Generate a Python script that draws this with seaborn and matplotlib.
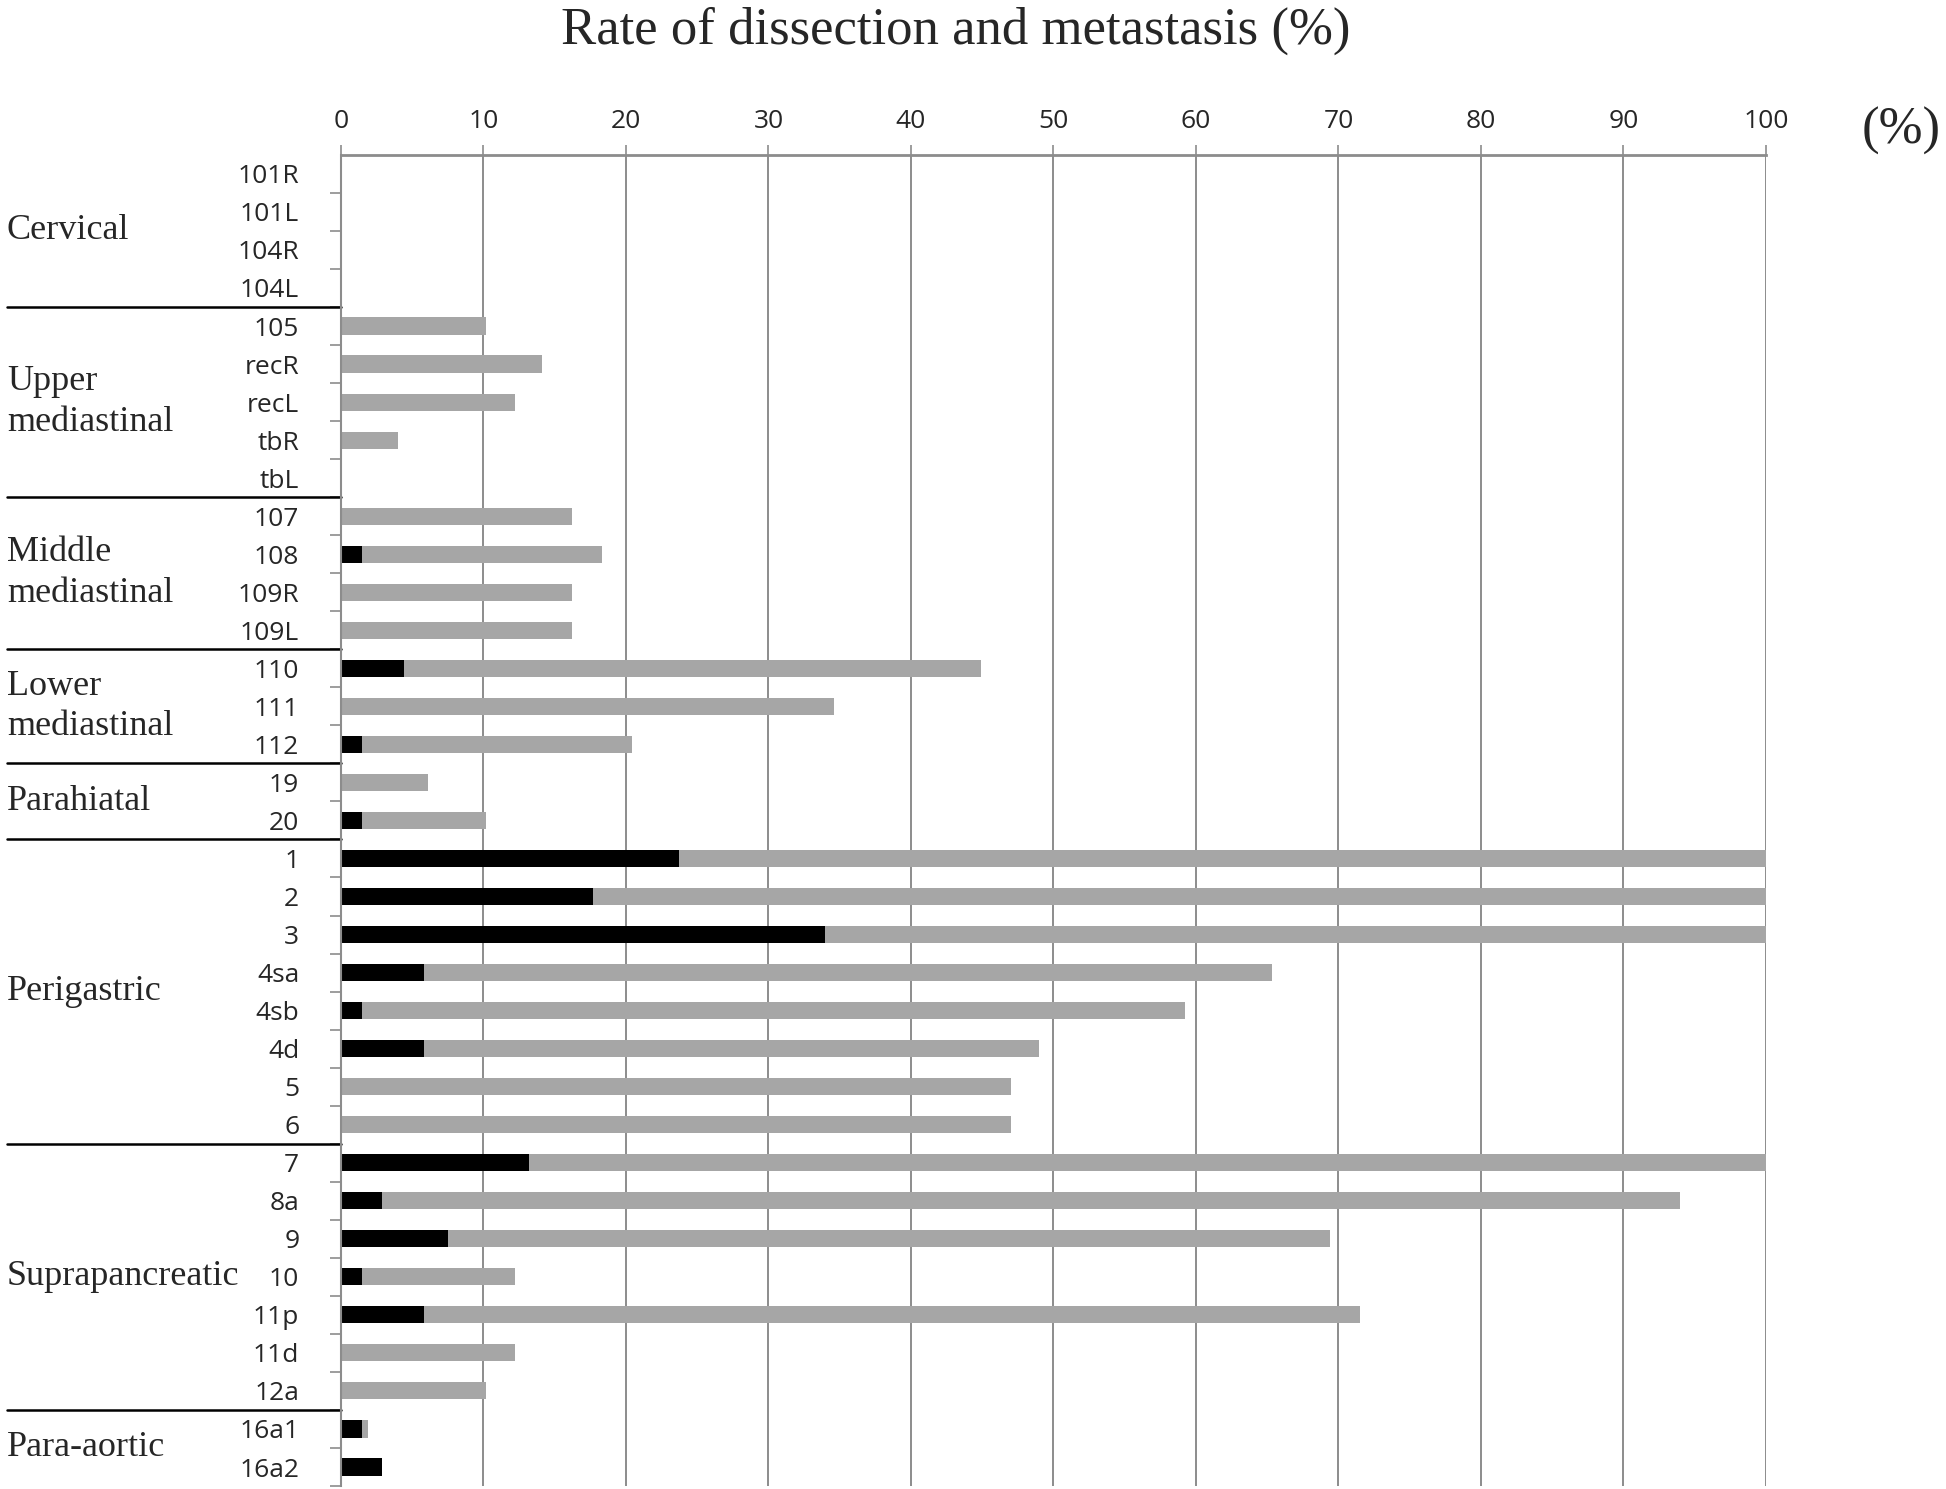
import numpy as np
import pandas as pd
import seaborn as sns
import matplotlib.pyplot as plt
from matplotlib.transforms import blended_transform_factory

###############################################################################
# Data (rates in %)
###############################################################################
stations = [
    '101R', '101L', '104R', '104L',
    '105', 'recR', 'recL', 'tbR', 'tbL',
    '107', '108', '109R', '109L',
    '110', '111', '112',
    '19', '20',
    '1', '2', '3', '4sa', '4sb', '4d', '5', '6',
    '7', '8a', '9', '10', '11p', '11d', '12a',
    '16a1', '16a2',
]
dissection = [
    0, 0, 0, 0,
    10.2, 14.1, 12.2, 4.0, 0,
    16.2, 18.3, 16.2, 16.2,
    44.9, 34.6, 20.4,
    6.1, 10.2,
    100, 100, 100, 65.3, 59.2, 49.0, 47.0, 47.0,
    100, 94.0, 69.4, 12.2, 71.5, 12.2, 10.2,
    1.9, 1.9,
]
metastasis = [
    0, 0, 0, 0,
    0, 0, 0, 0, 0,
    0, 1.5, 0, 0,
    4.4, 0, 1.5,
    0, 1.5,
    23.7, 17.7, 34.0, 5.8, 1.5, 5.8, 0, 0,
    13.2, 2.9, 7.5, 1.5, 5.8, 0, 0,
    1.5, 2.9,
]
groups = ['Cervical', 'Upper\nmediastinal', 'Middle\nmediastinal',
          'Lower\nmediastinal', 'Parahiatal', 'Perigastric',
          'Suprapancreatic', 'Para-aortic']
groupSizes = [4, 5, 4, 3, 2, 8, 7, 2]

df = pd.DataFrame({'station': stations, 'dissection': dissection,
                   'metastasis': metastasis})

###############################################################################
# Plot
###############################################################################
sns.set_style('white')
plt.rcParams['font.family'] = ['Open Sans', 'DejaVu Sans']
GRID = '#8c8c8c'
SERIF = 'Liberation Serif'

fig = plt.figure(figsize=(19.46, 14.89), dpi=100)
ax = fig.add_axes([0.1752, 0.002, 0.7323, 0.894])

sns.barplot(data=df, x='dissection', y='station', order=stations,
            orient='h', color='#a6a6a6', width=0.45, errorbar=None,
            linewidth=0, saturation=1, ax=ax)
sns.barplot(data=df, x='metastasis', y='station', order=stations,
            orient='h', color='black', width=0.45, errorbar=None,
            linewidth=0, saturation=1, ax=ax)

n = len(stations)
ax.set_xlim(0, 100)
ax.set_ylim(n - 0.5, -0.5)
ax.set_xlabel('')
ax.set_ylabel('')

# top axis with gridlines
ax.xaxis.tick_top()
ax.set_xticks(range(0, 101, 10))
ax.tick_params(axis='x', top=True, length=7, width=1.2, color=GRID,
               pad=8, labelsize=19)
ax.grid(axis='x', color=GRID, linewidth=1.4)
ax.set_axisbelow(True)
for s in ('right', 'bottom'):
    ax.spines[s].set_visible(False)
ax.spines['top'].set_color(GRID)
ax.spines['top'].set_linewidth(2)
ax.spines['left'].set_color(GRID)
ax.spines['left'].set_linewidth(1.5)

# station labels, ticks at row boundaries
ax.tick_params(axis='y', which='major', length=0, pad=30, labelsize=19)
ax.set_yticks(np.arange(n) + 0.5, minor=True)
ax.tick_params(axis='y', which='minor', length=8, width=1.2, color=GRID,
               left=True)

# group labels and separators
trans = blended_transform_factory(fig.transFigure, ax.transData)
start = 0
for g, size in zip(groups, groupSizes):
    yc = start + (size - 1) / 2
    ax.text(0.0035, yc, g, transform=trans, ha='left', va='center',
            family=SERIF, fontsize=26, linespacing=1.3)
    start += size
    if start < n:
        ax.plot([0.0035, 0.1752], [start - 0.5, start - 0.5], color='black',
                linewidth=1.8, transform=trans, clip_on=False)

fig.text(0.491, 0.979, 'Rate of dissection and metastasis (%)',
         ha='center', va='center', family=SERIF, fontsize=38)
fig.text(0.977, 0.912, '(%)', ha='center', va='center', family=SERIF,
         fontsize=38)

fig.savefig('out.png', dpi=100)
